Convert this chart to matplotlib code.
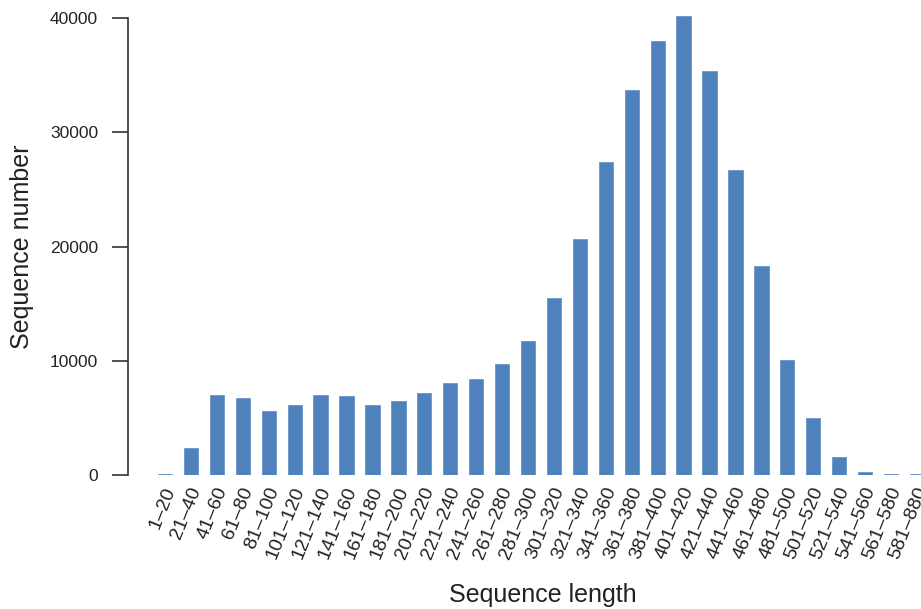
import numpy as np
import matplotlib.pyplot as plt

plt.rcParams['font.family'] = ['Liberation Sans', 'DejaVu Sans']

# Datos
categorias = ['1–20', '21–40', '41–60', '61–80', '81–100', '101–120', '121–140',
              '141–160', '161–180', '181–200', '201–220', '221–240', '241–260',
              '261–280', '281–300', '301–320', '321–340', '341–360', '361–380',
              '381–400', '401–420', '421–440', '441–460', '461–480', '481–500',
              '501–520', '521–540', '541–560', '561–580', '581–880']
conteos = [100, 2400, 7000, 6750, 5600, 6100, 7000, 6950, 6100, 6500, 7200,
           8050, 8400, 9700, 11700, 15500, 20650, 27400, 33700, 38000, 40150,
           35400, 26700, 18300, 10050, 5000, 1550, 300, 80, 60]
y_ticks = [0, 10000, 20000, 30000, 40000]

W, H = 921, 609
fig = plt.figure(figsize=(W / 100, H / 100), dpi=100)

# Ejes: y=0 en el pixel 475, y=40000 en el pixel 18
y0_px, y40_px, top_px = 475, 18, 8
ymax = 40000 * (y0_px - top_px) / (y0_px - y40_px)
ax = fig.add_axes([128 / W, 1 - y0_px / H, 1 - 128 / W, (y0_px - top_px) / H])

x = np.arange(len(categorias))
ax.bar(x, conteos, width=0.55, color='#4F81BD', edgecolor='#6A95C9', linewidth=0.6)

# Primera barra en el pixel 165, separación ~25.93 px
paso = 25.93
ax.set_xlim((128 - 165) / paso, (W - 165) / paso)
ax.set_ylim(0, ymax)

for s in ['top', 'right', 'bottom']:
    ax.spines[s].set_visible(False)
ax.spines['left'].set_bounds(0, 40000)
ax.spines['left'].set_linewidth(1.2)
ax.spines['left'].set_color('#333333')

ax.set_yticks(y_ticks)
ax.set_yticklabels([str(v) for v in y_ticks])
ax.tick_params(axis='y', length=11.5, width=1.2, color='#333333', labelsize=12.5,
               pad=10, labelcolor='#222222')
ax.set_xticks([])

for i, lab in enumerate(categorias):
    ax.annotate(lab, xy=(i, 0), xycoords='data', xytext=(4, -9),
                textcoords='offset points', rotation=68, rotation_mode='anchor',
                ha='right', va='center', fontsize=14, color='#222222',
                annotation_clip=False)

fig.text(543 / W, 1 - 595 / H, 'Sequence length', ha='center', va='center',
         fontsize=18, color='#222222')
fig.text(22 / W, 1 - 247 / H, 'Sequence number', ha='center', va='center',
         rotation=90, fontsize=18, color='#222222')

fig.savefig('out.png', dpi=100)
